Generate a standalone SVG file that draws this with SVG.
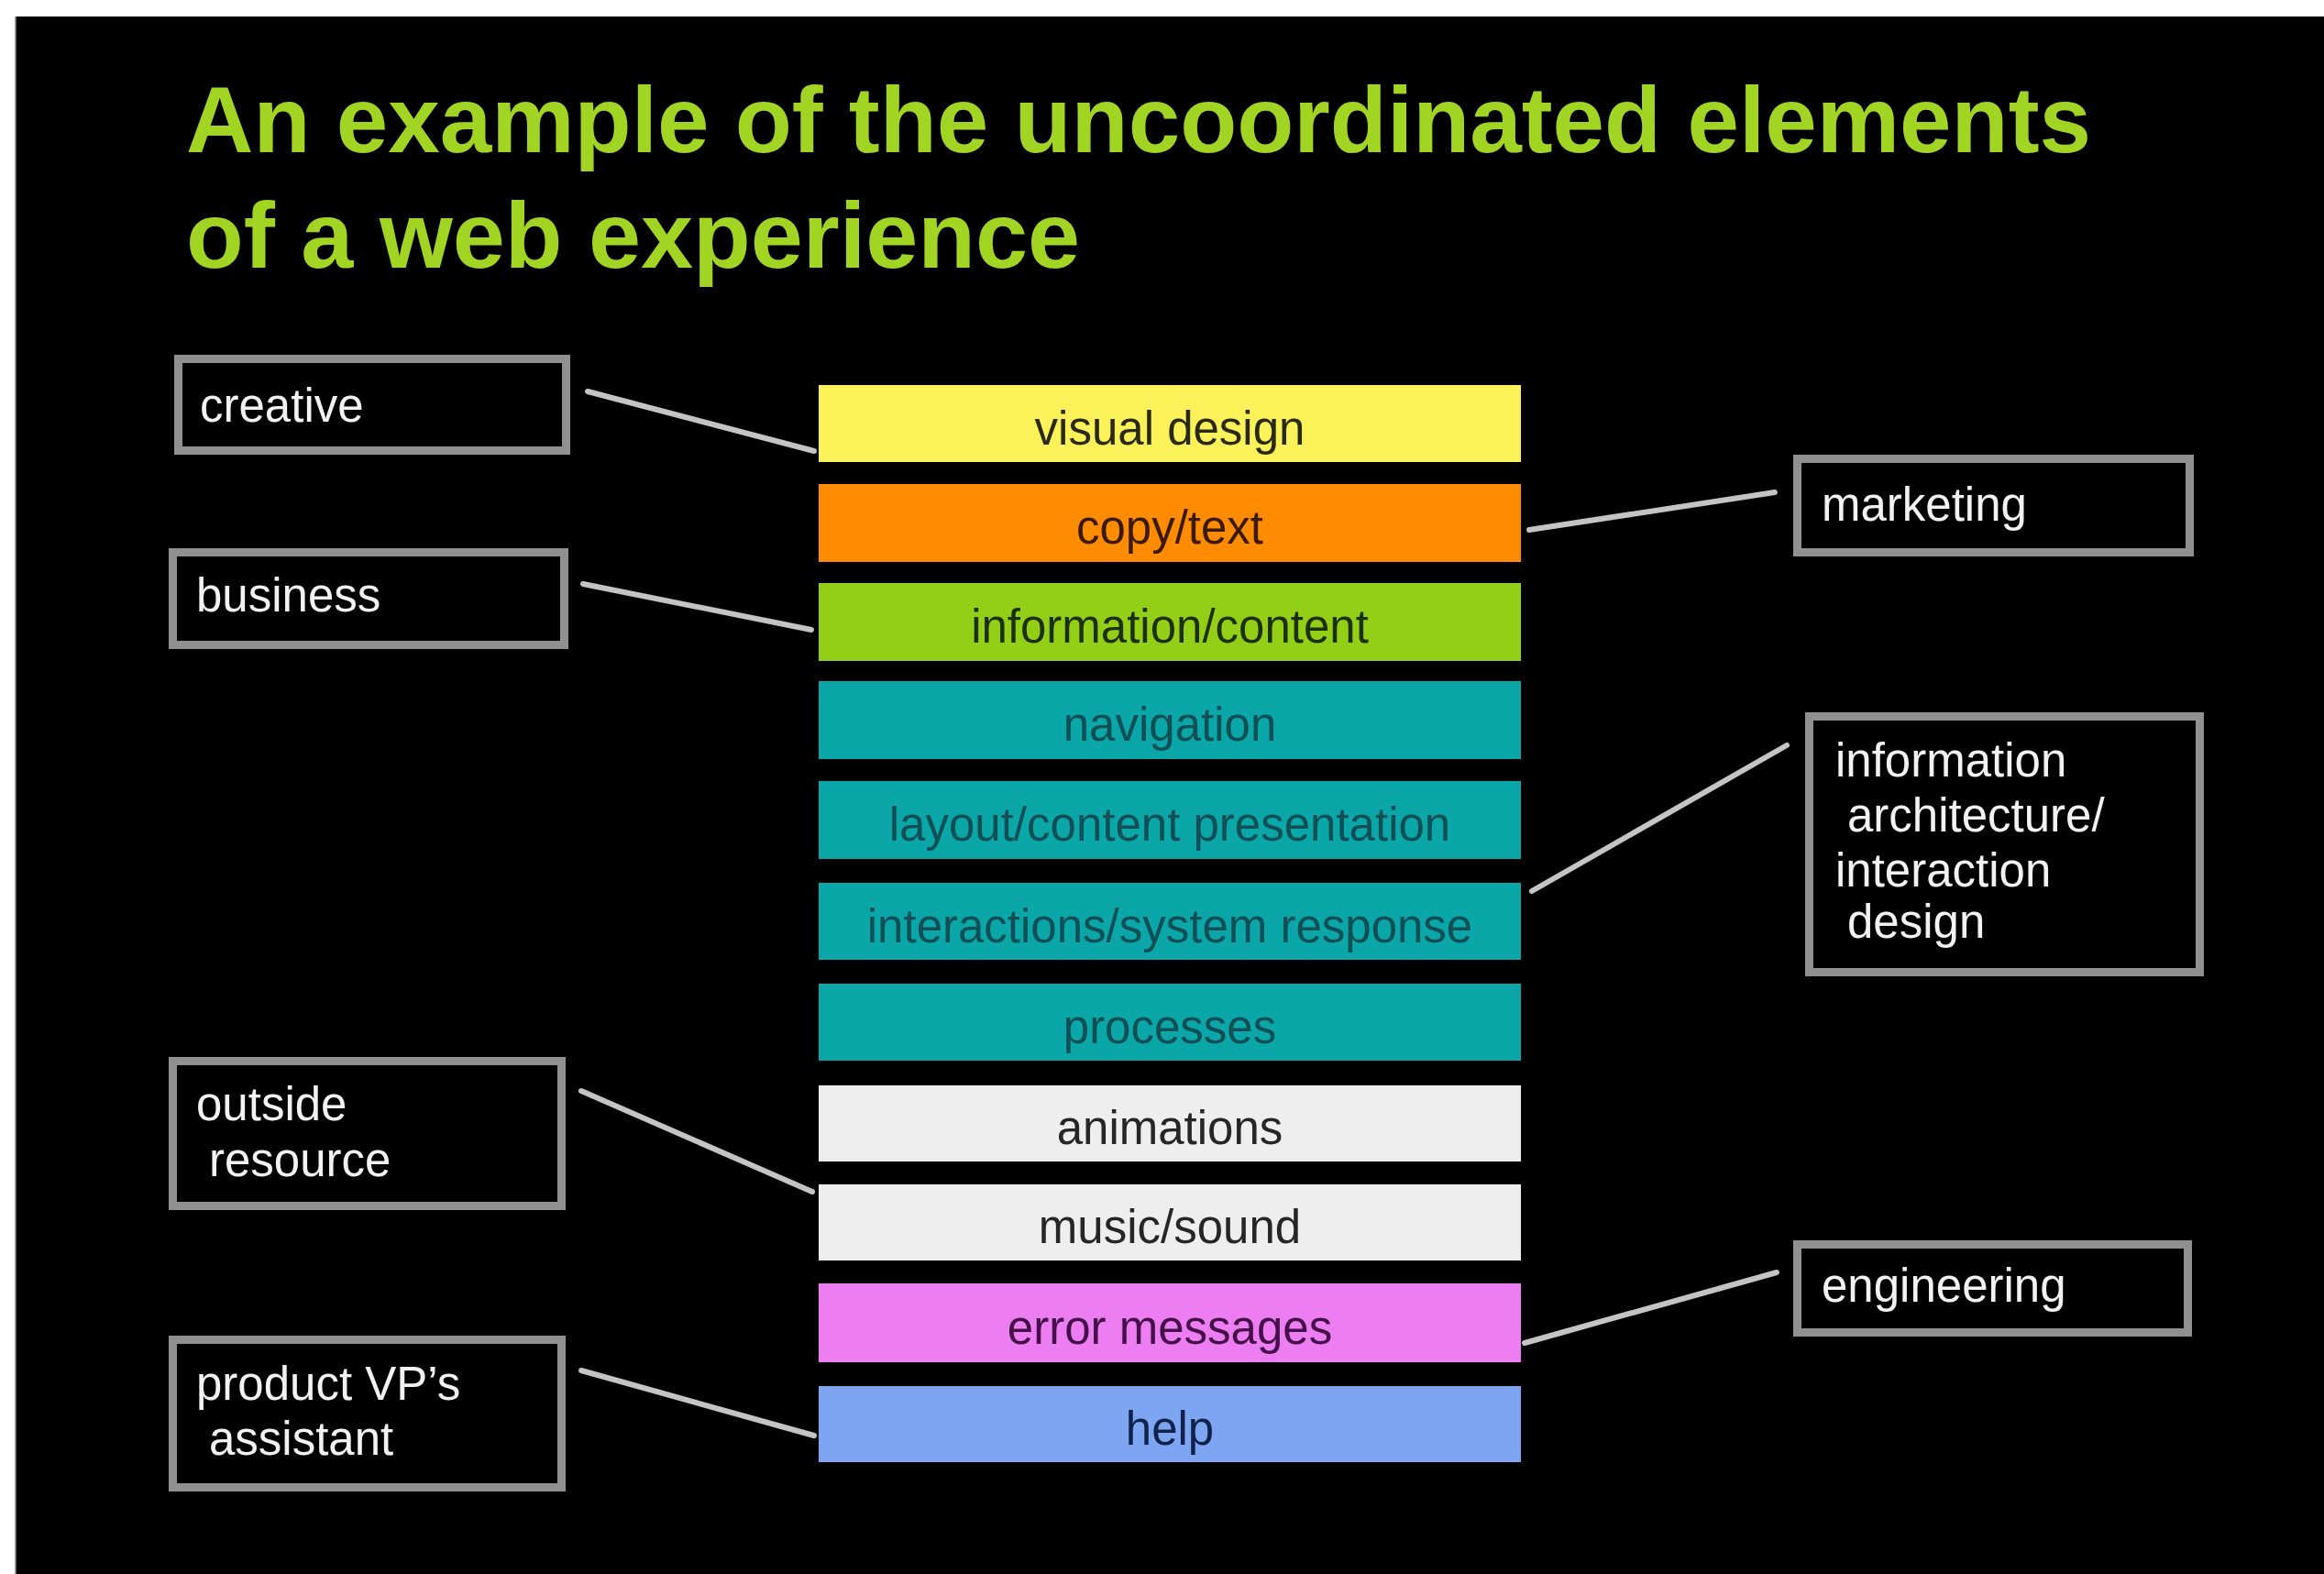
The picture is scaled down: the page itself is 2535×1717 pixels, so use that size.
<svg xmlns="http://www.w3.org/2000/svg" width="2535" height="1717" viewBox="0 0 2535 1717">
<style>
.title{font-family:"Liberation Sans",Arial,sans-serif;font-weight:bold;font-size:102px;fill:#a2d424}
.bar text{font-family:"Liberation Sans",Arial,sans-serif;font-size:51px;text-anchor:middle}
.box rect{fill:#000;stroke:#909090;stroke-width:9}
.box text{font-family:"Liberation Sans",Arial,sans-serif;font-size:51px;fill:#f2f2f2}
#connectors line{stroke:#c4c4c4;stroke-width:6;stroke-linecap:round}
</style>
<rect x="0" y="0" width="2535" height="1717" fill="#ffffff"/>
<rect x="17" y="18" width="2518" height="1699" fill="#000000"/>
<line x1="17" y1="18" x2="17" y2="1717" stroke="#888" stroke-width="1.5"/>
<text class="title" x="203" y="166" textLength="2078" lengthAdjust="spacingAndGlyphs">An example of the uncoordinated elements</text>
<text class="title" x="203" y="292" textLength="975" lengthAdjust="spacingAndGlyphs">of a web experience</text>

<g id="connectors">
<line x1="641" y1="427" x2="888" y2="492"/>
<line x1="636" y1="637" x2="885" y2="687"/>
<line x1="634" y1="1190" x2="886" y2="1300"/>
<line x1="634" y1="1495" x2="888" y2="1566"/>
<line x1="1668" y1="578" x2="1936" y2="537"/>
<line x1="1671" y1="972" x2="1949" y2="813"/>
<line x1="1663" y1="1465" x2="1938" y2="1388"/>
</g>

<g id="bar-visual-design" class="bar"><rect x="893" y="420" width="766" height="84" fill="#fbf25a"/><text x="1276" y="485" fill="#2a2a14">visual design</text></g>
<g id="bar-copy-text" class="bar"><rect x="893" y="528" width="766" height="85" fill="#ff8c00"/><text x="1276" y="593" fill="#3a1a04">copy/text</text></g>
<g id="bar-information-content" class="bar"><rect x="893" y="636" width="766" height="85" fill="#94cf18"/><text x="1276" y="701" fill="#1c3008">information/content</text></g>
<g id="bar-navigation" class="bar"><rect x="893" y="743" width="766" height="85" fill="#0aa6a8"/><text x="1276" y="808" fill="#0f4f55">navigation</text></g>
<g id="bar-layout" class="bar"><rect x="893" y="852" width="766" height="85" fill="#0aa6a8"/><text x="1276" y="917" fill="#0f4f55">layout/content presentation</text></g>
<g id="bar-interactions" class="bar"><rect x="893" y="963" width="766" height="84" fill="#0aa6a8"/><text x="1276" y="1028" fill="#0f4f55">interactions/system response</text></g>
<g id="bar-processes" class="bar"><rect x="893" y="1073" width="766" height="84" fill="#0aa6a8"/><text x="1276" y="1138" fill="#0f4f55">processes</text></g>
<g id="bar-animations" class="bar"><rect x="893" y="1184" width="766" height="83" fill="#eeeeee"/><text x="1276" y="1248" fill="#262626">animations</text></g>
<g id="bar-music-sound" class="bar"><rect x="893" y="1292" width="766" height="83" fill="#eeeeee"/><text x="1276" y="1356" fill="#262626">music/sound</text></g>
<g id="bar-error-messages" class="bar"><rect x="893" y="1400" width="766" height="86" fill="#ec7ef2"/><text x="1276" y="1466" fill="#45104a">error messages</text></g>
<g id="bar-help" class="bar"><rect x="893" y="1512" width="766" height="83" fill="#7ea5f2"/><text x="1276" y="1576" fill="#10224a">help</text></g>

<g id="box-creative" class="box"><rect x="194.5" y="391.5" width="423" height="100"/><text x="218" y="460">creative</text></g>
<g id="box-business" class="box"><rect x="188.5" y="602.5" width="427" height="101"/><text x="214" y="667">business</text></g>
<g id="box-outside-resource" class="box"><rect x="188.5" y="1157.5" width="424" height="158"/><text x="214" y="1222">outside</text><text x="228" y="1283">resource</text></g>
<g id="box-product-vp" class="box"><rect x="188.5" y="1461.5" width="424" height="161"/><text x="214" y="1527">product VP’s</text><text x="228" y="1587">assistant</text></g>
<g id="box-marketing" class="box"><rect x="1960.5" y="500.5" width="428" height="102"/><text x="1987" y="568">marketing</text></g>
<g id="box-ia" class="box"><rect x="1973.5" y="781.5" width="426" height="279"/><text x="2002" y="847">information</text><text x="2015" y="907">architecture/</text><text x="2002" y="967">interaction</text><text x="2015" y="1023">design</text></g>
<g id="box-engineering" class="box"><rect x="1960.5" y="1357.5" width="426" height="96"/><text x="1987" y="1420">engineering</text></g>
</svg>
